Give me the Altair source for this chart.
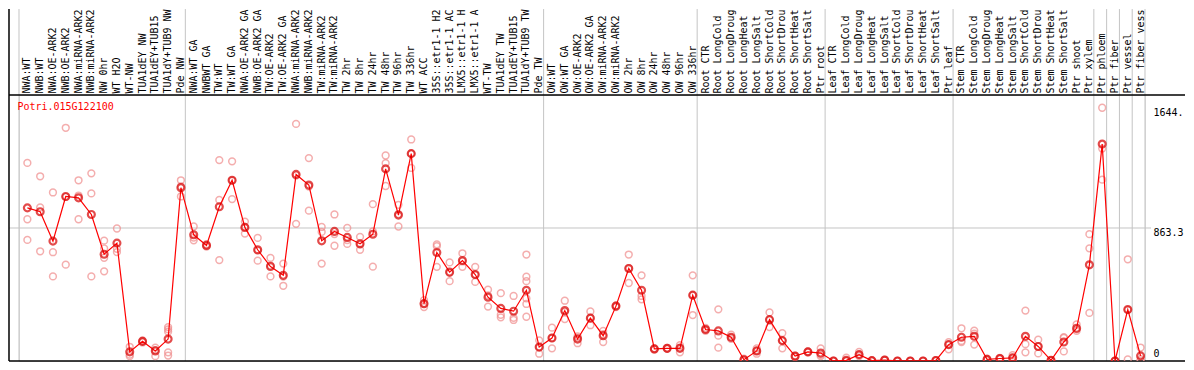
import altair as alt
import pandas as pd

gene = "Potri.015G122100"

labels = [
    "NWA:WT", "NWB:WT", "NWA:OE-ARK2", "NWB:OE-ARK2", "NWA:miRNA-ARK2", "NWB:miRNA-ARK2",
    "NW 0hr", "WT H2O", "WT-NW", "TUA1dEY NW", "TUA1dEY+TUB15", "TUA1dY+TUB9 NW", "Pde NW",
    "NWA:WT GA", "NWBWT GA", "TW:WT", "TW:WT GA", "NWA:OE-ARK2 GA", "NWB:OE-ARK2 GA",
    "TW:OE-ARK2", "TW:OE-ARK2 GA", "NWA:miRNA-ARK2", "NWB:miRNA-ARK2", "TW:miRNA-ARK2",
    "TW:miRNA-ARK2", "TW 2hr", "TW 8hr", "TW 24hr", "TW 48hr", "TW 96hr", "TW 336hr", "WT ACC",
    "35S::etr1-1 H2", "35S::etr1-1 AC", "LMX5::etr1-1 H", "LMX5::etr1-1 A", "WT-TW",
    "TUA1dEY TW", "TUA1dEY+TUB15", "TUA1dY+TUB9 TW", "Pde TW",
    "OW:WT", "OW:WT GA", "OW:OE-ARK2", "OW:OE-ARK2 GA", "OW:miRNA-ARK2", "OW:miRNA-ARK2",
    "OW 2hr", "OW 8hr", "OW 24hr", "OW 48hr", "OW 96hr", "OW 336hr",
    "Root CTR", "Root LongCold", "Root LongDroug", "Root LongHeat", "Root LongSalt",
    "Root ShortCold", "Root ShortDrou", "Root ShortHeat", "Root ShortSalt", "Ptr root",
    "Leaf CTR", "Leaf LongCold", "Leaf LongDroug", "Leaf LongHeat", "Leaf LongSalt",
    "Leaf ShortCold", "Leaf ShortDrou", "Leaf ShortHeat", "Leaf ShortSalt", "Ptr leaf",
    "Stem CTR", "Stem LongCold", "Stem LongDroug", "Stem LongHeat", "Stem LongSalt",
    "Stem ShortCold", "Stem ShortDrou", "Stem ShortHeat", "Stem ShortSalt", "Ptr shoot",
    "Ptr xylem", "Ptr phloem", "Ptr fiber", "Ptr vessel", "Ptr fiber vess",
]

means = [
    994, 969, 778, 1068, 1059, 951, 693, 765, 59, 127, 65, 142, 1125,
    819, 750, 1001, 1173, 867, 722, 613, 556, 1211, 1142, 780, 841, 802, 761, 823, 1247,
    947, 1346, 372, 704, 577, 652, 561, 414, 341, 323, 459, 90,
    149, 327, 142, 278, 164, 356, 600, 459, 78, 82, 82, 427,
    204, 195, 154, 8, 65, 268, 132, 31, 59, 51,
    0, 4, 41, 2, 6, 0, 0, 0, 3, 106,
    154, 160, 10, 16, 20, 160, 94, 4, 123, 212, 624,
    1408, 0, 334, 33,
]

reps = [
    [1286, 920, 786], [1199, 997, 712], [1094, 706, 549], [1514, 1065, 625],
    [1173, 1074, 920], [1218, 1088, 549], [781, 730, 670, 582], [860, 728, 707],
    [92, 41, 31], [133, 120, 127], [86, 70, 31], [220, 205, 190, 56, 35],
    [1173, 1134, 1068], [873, 801, 783], [758, 750, 742], [1304, 1045, 655],
    [1296, 1173, 1051], [905, 870, 827], [799, 716, 651], [669, 620, 549],
    [632, 548, 488], [1539, 1204, 890], [1317, 1133, 976], [870, 838, 632],
    [951, 824, 748], [864, 785, 760], [806, 755, 722], [1018, 841, 612],
    [1334, 1284, 1136], [1014, 954, 873], [1438, 1346, 1253], [395, 372, 350],
    [757, 745, 611], [640, 572, 518], [699, 646, 611], [611, 559, 513],
    [463, 426, 353], [440, 300, 283], [422, 280, 266], [691, 547, 518, 406, 370, 287],
    [134, 90, 47], [216, 149, 82], [391, 318, 272], [160, 150, 115],
    [321, 281, 232], [195, 174, 123], [350, 360, 358], [691, 603, 506],
    [556, 422, 400], [82, 78, 74], [85, 82, 79], [103, 87, 56],
    [556, 427, 298], [215, 204, 195], [335, 164, 86], [170, 150, 143],
    [15, 8, 0], [82, 65, 47], [315, 268, 220], [181, 132, 82],
    [35, 31, 25], [62, 59, 55], [82, 40, 31], [2, 0, 0],
    [21, 0, 0], [59, 41, 31], [4, 2, 0], [8, 6, 3],
    [0, 0, 0], [0, 0, 0], [0, 0, 0], [5, 3, 0],
    [122, 106, 76], [212, 130, 123], [197, 177, 106], [15, 10, 5],
    [20, 16, 12], [37, 20, 5], [327, 109, 56], [138, 94, 49],
    [5, 4, 2], [154, 150, 62], [237, 205, 195], [823, 731, 312],
    [1644, 1379, 1177], [0, 0, 0], [660, 332, 10], [87, 12, 0],
]

group_starts = [0, 13, 41, 53, 63, 73, 84, 85, 86, 87, 88]
y_max = 1726.6
y_ticks = [0, 863.3, 1644]
y_tick_text = ["0", "863.3", "1644."]
grid_vals = [863.3]

# layout (styling only)
N = len(labels)
STEP = 12.8
W = STEP * N
H = 266
HEAD = 86
LEFT = 10
OFF = 0.654

mean_df = pd.DataFrame({"i": list(range(N)), "label": labels, "mean": means})
rep_df = pd.DataFrame([{"i": i, "v": v} for i, vs in enumerate(reps) for v in vs])
sep_df = pd.DataFrame({"b": [g - OFF for g in group_starts]})
grid_df = pd.DataFrame({"g": grid_vals})
one = pd.DataFrame({"k": [0]})
gene_df = pd.DataFrame({"name": [gene]})

xs = alt.Scale(domain=[-OFF, N - OFF], nice=False, zero=False)
ys = alt.Scale(domain=[0, y_max], nice=False, zero=True)

MONO = "DejaVu Sans Mono"

label_expr = " : ".join(
    f"datum.value == {v} ? '{t}'" for v, t in zip(y_ticks, y_tick_text)
) + " : ''"

y_axis = alt.Axis(
    orient="right", values=y_ticks, grid=False, domain=False, ticks=False,
    labelPadding=8, labelFont=MONO, labelFontSize=10, labelColor="black",
    labelBaseline="middle", labelFlush=False, title=None,
    labelOffset={"condition": {"test": "datum.value === 0", "value": -7}, "value": 5},
    labelExpr=label_expr,
)

sep = alt.Chart(sep_df).mark_rule(color="#c4c4c4", strokeWidth=1).encode(
    x=alt.X("b:Q", scale=xs, axis=None),
    y=alt.value(-HEAD), y2=alt.value(H),
)

grid = alt.Chart(grid_df).mark_rule(color="#c4c4c4", strokeWidth=1).encode(
    y=alt.Y("g:Q", scale=ys, axis=y_axis),
    x=alt.value(-LEFT), x2=alt.value(W + 6),
)

left_line = alt.Chart(one).mark_rule(color="black", strokeWidth=1.5).encode(
    x=alt.value(-LEFT), y=alt.value(-HEAD), y2=alt.value(H),
)
top_line = alt.Chart(one).mark_rule(color="black", strokeWidth=1.5).encode(
    y=alt.value(0), x=alt.value(-LEFT), x2=alt.value(W + 40),
)
bot_line = alt.Chart(one).mark_rule(color="black", strokeWidth=1.5).encode(
    y=alt.value(H), x=alt.value(-LEFT), x2=alt.value(W + 40),
)

rep_pts = alt.Chart(rep_df).mark_point(
    shape="circle", filled=False, color="#f08c8c", size=46, strokeWidth=1.5, clip=True
).encode(
    x=alt.X("i:Q", scale=xs, axis=None),
    y=alt.Y("v:Q", scale=ys, axis=y_axis),
)

line = alt.Chart(mean_df).mark_line(color="#ff0000", strokeWidth=1.2, clip=True).encode(
    x=alt.X("i:Q", scale=xs, axis=None),
    y=alt.Y("mean:Q", scale=ys, axis=y_axis),
)

mean_pts = alt.Chart(mean_df).mark_point(
    shape="circle", filled=False, color="#d80000", size=48, strokeWidth=2.2, clip=True
).encode(
    x=alt.X("i:Q", scale=xs, axis=None),
    y=alt.Y("mean:Q", scale=ys, axis=y_axis),
)

head = alt.Chart(mean_df).mark_text(
    angle=270, align="left", baseline="middle", font=MONO, fontSize=10, color="black"
).encode(
    x=alt.X("i:Q", scale=xs, axis=None),
    y=alt.value(-1.5),
    text="label:N",
)

title = alt.Chart(gene_df).mark_text(
    align="left", baseline="middle", font=MONO, fontSize=10, color="#ff0000"
).encode(
    x=alt.value(-1.5), y=alt.value(12), text="name:N",
)

chart = alt.layer(
    sep, grid, left_line, top_line, bot_line, rep_pts, line, mean_pts, head, title
).properties(
    width=W, height=H, padding=0,
).configure_view(stroke=None).configure(background="white")

chart.save("out.html", embed_options={"renderer": "svg", "actions": False})
